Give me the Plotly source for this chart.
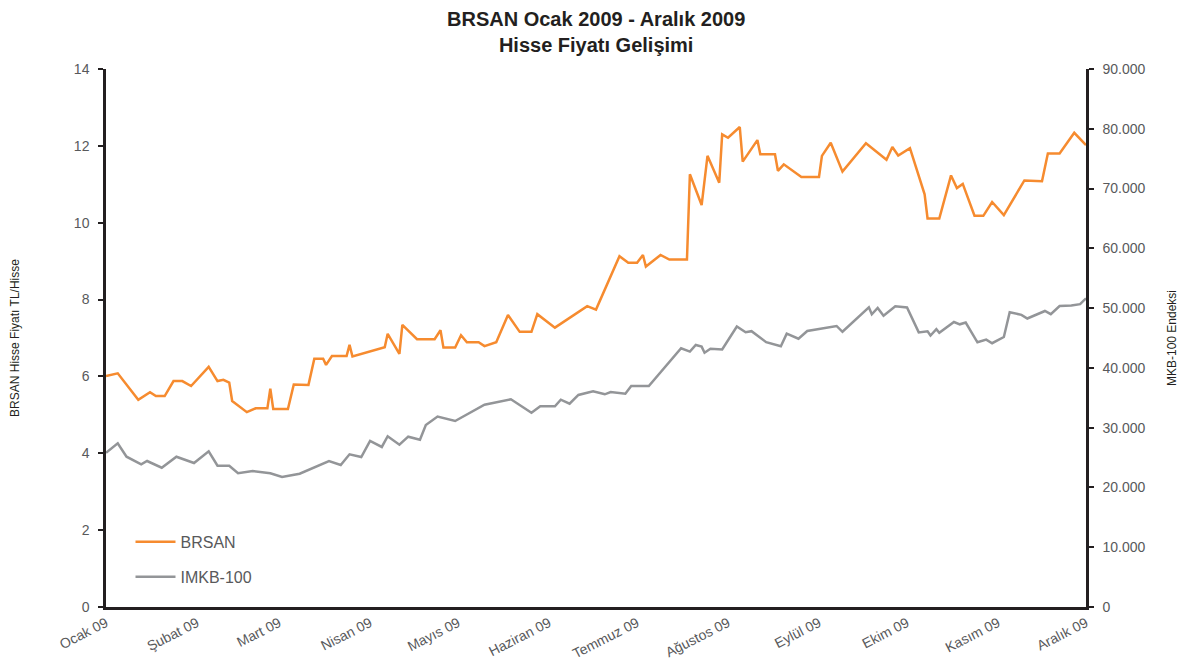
import plotly.graph_objects as go

# BRSAN share price (TL)
brsan_dates = [
    "2009-01-01", "2009-01-05", "2009-01-12", "2009-01-16", "2009-01-18", "2009-01-21",
    "2009-01-24", "2009-01-27", "2009-01-30", "2009-02-05", "2009-02-08", "2009-02-10",
    "2009-02-12", "2009-02-13", "2009-02-18", "2009-02-21", "2009-02-25", "2009-02-26",
    "2009-02-27", "2009-03-04", "2009-03-06", "2009-03-11", "2009-03-13", "2009-03-16",
    "2009-03-17", "2009-03-19", "2009-03-24", "2009-03-25", "2009-03-26", "2009-04-06",
    "2009-04-07", "2009-04-11", "2009-04-12", "2009-04-17", "2009-04-23", "2009-04-25",
    "2009-04-26", "2009-04-30", "2009-05-02", "2009-05-04", "2009-05-08", "2009-05-10",
    "2009-05-14", "2009-05-18", "2009-05-22", "2009-05-26", "2009-05-28", "2009-06-03",
    "2009-06-14", "2009-06-17", "2009-06-25", "2009-06-28", "2009-07-01", "2009-07-03",
    "2009-07-04", "2009-07-09", "2009-07-12", "2009-07-18", "2009-07-19", "2009-07-23",
    "2009-07-25", "2009-07-29", "2009-07-30", "2009-08-01", "2009-08-05", "2009-08-06",
    "2009-08-11", "2009-08-12", "2009-08-17", "2009-08-18", "2009-08-20", "2009-08-26",
    "2009-09-01", "2009-09-02", "2009-09-05", "2009-09-09", "2009-09-17", "2009-09-24",
    "2009-09-26", "2009-09-28", "2009-10-02", "2009-10-07", "2009-10-08", "2009-10-12",
    "2009-10-16", "2009-10-18", "2009-10-20", "2009-10-24", "2009-10-27", "2009-10-30",
    "2009-11-03", "2009-11-10", "2009-11-16", "2009-11-18", "2009-11-22", "2009-11-27",
    "2009-12-01",
]
brsan_values = [
    6.01, 6.08, 5.39, 5.59, 5.49, 5.49,
    5.88, 5.88, 5.75, 6.25, 5.88, 5.91,
    5.84, 5.36, 5.07, 5.17, 5.17, 5.68,
    5.15, 5.15, 5.79, 5.78, 6.46, 6.46,
    6.30, 6.53, 6.53, 6.82, 6.52, 6.76,
    7.11, 6.59, 7.34, 6.97, 6.97, 7.20,
    6.75, 6.75, 7.07, 6.89, 6.89, 6.79,
    6.89, 7.60, 7.16, 7.16, 7.62, 7.27,
    7.83, 7.74, 9.13, 8.96, 8.96, 9.16,
    8.86, 9.16, 9.04, 9.04, 11.26, 10.46,
    11.74, 11.04, 12.30, 12.21, 12.49, 11.59,
    12.15, 11.78, 11.78, 11.35, 11.52, 11.19,
    11.19, 11.74, 12.08, 11.33, 12.07, 11.64,
    11.97, 11.75, 11.94, 10.74, 10.11, 10.11,
    11.23, 10.90, 11.01, 10.18, 10.18, 10.54,
    10.20, 11.10, 11.08, 11.80, 11.80, 12.34,
    12.02,
]

# IMKB-100 index
imkb_dates = [
    "2009-01-01", "2009-01-05", "2009-01-08", "2009-01-13", "2009-01-15", "2009-01-20",
    "2009-01-25", "2009-01-31", "2009-02-05", "2009-02-08", "2009-02-12", "2009-02-15",
    "2009-02-20", "2009-02-26", "2009-03-02", "2009-03-08", "2009-03-18", "2009-03-22",
    "2009-03-25", "2009-03-29", "2009-04-01", "2009-04-05", "2009-04-07", "2009-04-11",
    "2009-04-14", "2009-04-18", "2009-04-20", "2009-04-24", "2009-04-30", "2009-05-10",
    "2009-05-19", "2009-05-26", "2009-05-29", "2009-06-03", "2009-06-05", "2009-06-08",
    "2009-06-11", "2009-06-16", "2009-06-20", "2009-06-22", "2009-06-27", "2009-06-29",
    "2009-07-05", "2009-07-16", "2009-07-19", "2009-07-21", "2009-07-23", "2009-07-24",
    "2009-07-26", "2009-07-30", "2009-08-04", "2009-08-07", "2009-08-09", "2009-08-14",
    "2009-08-19", "2009-08-21", "2009-08-25", "2009-08-28", "2009-09-07", "2009-09-09",
    "2009-09-18", "2009-09-19", "2009-09-21", "2009-09-23", "2009-09-27", "2009-10-01",
    "2009-10-05", "2009-10-08", "2009-10-09", "2009-10-11", "2009-10-12", "2009-10-17",
    "2009-10-19", "2009-10-21", "2009-10-25", "2009-10-28", "2009-10-30", "2009-11-03",
    "2009-11-05", "2009-11-09", "2009-11-11", "2009-11-17", "2009-11-19", "2009-11-22",
    "2009-11-26", "2009-11-29", "2009-12-01",
]
imkb_values = [
    25800, 27390, 25140, 23870, 24420, 23300,
    25140, 24090, 26050, 23640, 23640, 22370,
    22750, 22370, 21750, 22300, 24420, 23760,
    25550, 25090, 27770, 26770, 28560, 27150,
    28490, 27990, 30450, 31870, 31120, 33840,
    34750, 32500, 33580, 33580, 34680, 34010,
    35470, 36080, 35580, 35970, 35680, 36970,
    36970, 43280, 42730, 43830, 43550, 42540,
    43190, 43080, 46930, 45970, 46140, 44300,
    43610, 45720, 44880, 46170, 47010, 46040,
    50140, 48970, 50020, 48730, 50300, 50100,
    45940, 46110, 45420, 46470, 45870, 47680,
    47290, 47590, 44280, 44720, 44130, 45170,
    49320, 48870, 48260, 49520, 48980, 50350,
    50440, 50660, 51640,
]

month_ticks = ["2009-01-01", "2009-02-01", "2009-03-01", "2009-04-01", "2009-05-01",
               "2009-06-01", "2009-07-01", "2009-08-01", "2009-09-01", "2009-10-01",
               "2009-11-01", "2009-12-01"]
month_labels = ["Ocak 09", "Şubat 09", "Mart 09", "Nisan 09", "Mayıs 09", "Haziran 09",
                "Temmuz 09", "Ağustos 09", "Eylül 09", "Ekim 09", "Kasım 09", "Aralık 09"]

left_ticks = [0, 2, 4, 6, 8, 10, 12, 14]
right_ticks = [0, 10000, 20000, 30000, 40000, 50000, 60000, 70000, 80000, 90000]

title_lines = ["BRSAN Ocak 2009 - Aralık 2009", "Hisse Fiyatı Gelişimi"]

FONT = "Liberation Sans, Arial, sans-serif"
AXIS_COL = "#231f20"
TICK_COL = "#58595b"

fig = go.Figure()
fig.add_trace(go.Scatter(
    x=brsan_dates, y=brsan_values, name="BRSAN", mode="lines",
    line=dict(color="#f68b2f", width=2.5), legendgroup="a", yaxis="y",
))
fig.add_trace(go.Scatter(
    x=imkb_dates, y=imkb_values, name="IMKB-100", mode="lines",
    line=dict(color="#939598", width=2.5), legendgroup="b", yaxis="y2",
))

fig.add_annotation(
    text="<b>" + "<br>".join(title_lines) + "</b>",
    xref="paper", yref="paper", x=0.5, y=1, xanchor="center", yanchor="bottom",
    yshift=11, showarrow=False,
    font=dict(family=FONT, size=20, color="#231f20"),
)

# the page body adds a ~7px offset, so the figure is sized/margined to compensate
fig.update_layout(
    width=1180, height=654,
    paper_bgcolor="white", plot_bgcolor="white",
    separators=",.",
    margin=dict(l=98, r=102, t=61, b=55, autoexpand=False),
    font=dict(family=FONT, color=TICK_COL, size=14),
    xaxis=dict(
        type="date", range=["2009-01-01", "2009-12-01"], automargin=False,
        tickvals=month_ticks, ticktext=month_labels, tickangle=-27,
        showgrid=False, zeroline=False, showline=True, linecolor=AXIS_COL, linewidth=2.5,
        ticks="", tickfont=dict(size=14, color=TICK_COL),
    ),
    yaxis=dict(
        range=[0, 14], automargin=False,
        tickvals=left_ticks, ticktext=[str(v) for v in left_ticks],
        showgrid=False, zeroline=False, showline=True, linecolor=AXIS_COL, linewidth=2.5,
        ticks="outside", ticklen=5, tickwidth=2, tickcolor=AXIS_COL,
        tickfont=dict(size=14, color=TICK_COL), ticklabelstandoff=6,
        title=dict(text="BRSAN Hisse Fiyatı TL/Hisse", standoff=53,
                   font=dict(size=12, color="#231f20")),
    ),
    yaxis2=dict(
        range=[0, 90000], overlaying="y", side="right", anchor="x", automargin=False,
        tickvals=right_ticks, ticktext=[f"{v:,}".replace(",", ".") for v in right_ticks],
        showgrid=False, zeroline=False, showline=True, linecolor=AXIS_COL, linewidth=2.5,
        ticks="outside", ticklen=5, tickwidth=2, tickcolor=AXIS_COL,
        tickfont=dict(size=14, color=TICK_COL), ticklabelstandoff=6,
        title=dict(text="MKB-100 Endeksi", standoff=24,
                   font=dict(size=12, color="#231f20")),
    ),
    showlegend=True,
    legend=dict(
        x=0.025, y=0.1525, xanchor="left", yanchor="top",
        bgcolor="rgba(0,0,0,0)", font=dict(size=16, color=TICK_COL),
        traceorder="grouped", tracegroupgap=11, itemwidth=40,
    ),
)

fig.write_html("out.html")
